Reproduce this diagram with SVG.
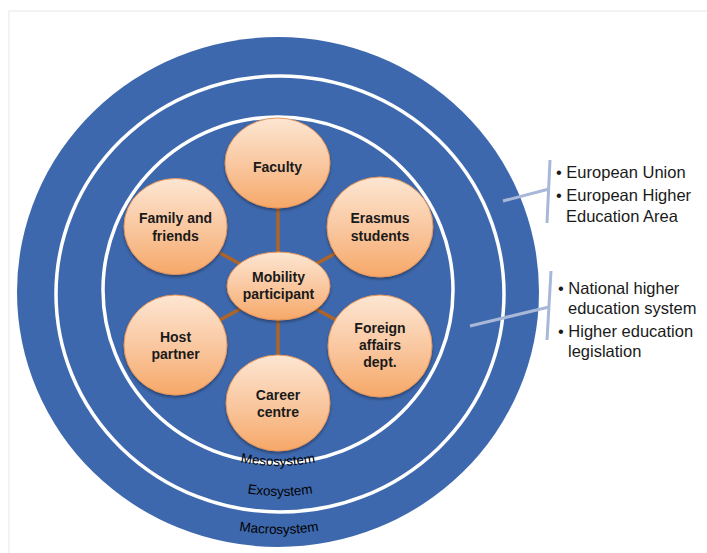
<svg xmlns="http://www.w3.org/2000/svg" width="707" height="553" viewBox="0 0 707 553">
<defs>
<linearGradient id="peach" x1="0" y1="0" x2="0" y2="1">
<stop offset="0" stop-color="#fde6d2"/>
<stop offset="0.55" stop-color="#f9c59c"/>
<stop offset="1" stop-color="#f6a868"/>
</linearGradient>
<filter id="sh" x="-20%" y="-20%" width="140%" height="140%">
<feDropShadow dx="0" dy="2" stdDeviation="1.5" flood-color="#000" flood-opacity="0.35"/>
</filter>
<path id="arcMeso" d="M 98,290 A 180,176 0 0 0 458,290"/>
<path id="arcExo" d="M 75,294 A 205,202 0 0 0 485,294"/>
<path id="arcMacro" d="M 34,292 A 245,242 0 0 0 524,292"/>
</defs>
<style>
.ring{fill:none;stroke:#ffffff;stroke-width:3.5}
.node ellipse{fill:url(#peach);stroke:#e8965a;stroke-width:1;filter:url(#sh)}
.node text{font-family:"Liberation Sans",Arial,sans-serif;font-weight:bold;font-size:14px;fill:#1a1a1a;text-anchor:middle}
.conn line{stroke:#ad6428;stroke-width:3.5}
.sys{font-family:"Liberation Sans",Arial,sans-serif;font-size:13.5px;fill:#000}
.lbl{font-family:"Liberation Sans",Arial,sans-serif;font-size:16.5px;fill:#1a1a1a}
.brk{stroke:#a9b8d8;stroke-width:3;fill:none}
</style>
<rect x="0" y="0" width="707" height="553" fill="#ffffff"/>
<rect x="9" y="11" width="710" height="560" fill="none" stroke="#e8e8e8" stroke-width="1"/>

<g id="rings">
<ellipse cx="278" cy="292" rx="261" ry="255" fill="#3e68ad"/>
<ellipse class="ring" cx="280" cy="294" rx="224" ry="218"/>
<ellipse class="ring" cx="278" cy="290" rx="175" ry="173"/>
</g>

<g id="system-labels">
<text class="sys"><textPath href="#arcMeso" startOffset="50%" text-anchor="middle">Mesosystem</textPath></text>
<text class="sys"><textPath href="#arcExo" startOffset="50%" text-anchor="middle">Exosystem</textPath></text>
<text class="sys"><textPath href="#arcMacro" startOffset="50%" text-anchor="middle">Macrosystem</textPath></text>
</g>

<g id="connectors" class="conn">
<line x1="278" y1="208" x2="278" y2="253"/>
<line x1="278" y1="319" x2="278" y2="356"/>
<line x1="220" y1="253" x2="240" y2="264"/>
<line x1="336" y1="253" x2="316" y2="264"/>
<line x1="220" y1="320" x2="240" y2="309"/>
<line x1="336" y1="320" x2="316" y2="309"/>
</g>

<g id="faculty" class="node">
<ellipse cx="277.5" cy="163" rx="52.5" ry="45"/>
<text x="277.5" y="172">Faculty</text>
</g>
<g id="family" class="node">
<ellipse cx="175.5" cy="226.5" rx="51.5" ry="48"/>
<text x="175.5" y="223">Family and</text>
<text x="175.5" y="241">friends</text>
</g>
<g id="erasmus" class="node">
<ellipse cx="380" cy="227" rx="53" ry="50"/>
<text x="380" y="223">Erasmus</text>
<text x="380" y="241">students</text>
</g>
<g id="mobility" class="node">
<ellipse cx="278.5" cy="286" rx="51.5" ry="34"/>
<text x="278.5" y="282">Mobility</text>
<text x="278.5" y="299">participant</text>
</g>
<g id="host" class="node">
<ellipse cx="175.5" cy="345" rx="51.5" ry="50"/>
<text x="175.5" y="342">Host</text>
<text x="175.5" y="359">partner</text>
</g>
<g id="foreign" class="node">
<ellipse cx="380" cy="346" rx="52" ry="51"/>
<text x="380" y="333">Foreign</text>
<text x="380" y="350">affairs</text>
<text x="380" y="367">dept.</text>
</g>
<g id="career" class="node">
<ellipse cx="278" cy="403" rx="52" ry="48"/>
<text x="278" y="400">Career</text>
<text x="278" y="417">centre</text>
</g>

<g id="bracket-macro">
<path class="brk" d="M 550,160 L 547,223"/>
<path class="brk" d="M 503,201 L 549,189"/>
<text class="lbl" x="556" y="178">• European Union</text>
<text class="lbl" x="556" y="201">• European Higher</text>
<text class="lbl" x="566" y="222">Education Area</text>
</g>
<g id="bracket-exo">
<path class="brk" d="M 551,271 L 547,340"/>
<path class="brk" d="M 470,326 L 549,307"/>
<text class="lbl" x="558" y="294">• National higher</text>
<text class="lbl" x="568" y="314">education system</text>
<text class="lbl" x="558" y="337">• Higher education</text>
<text class="lbl" x="568" y="357">legislation</text>
</g>
</svg>
